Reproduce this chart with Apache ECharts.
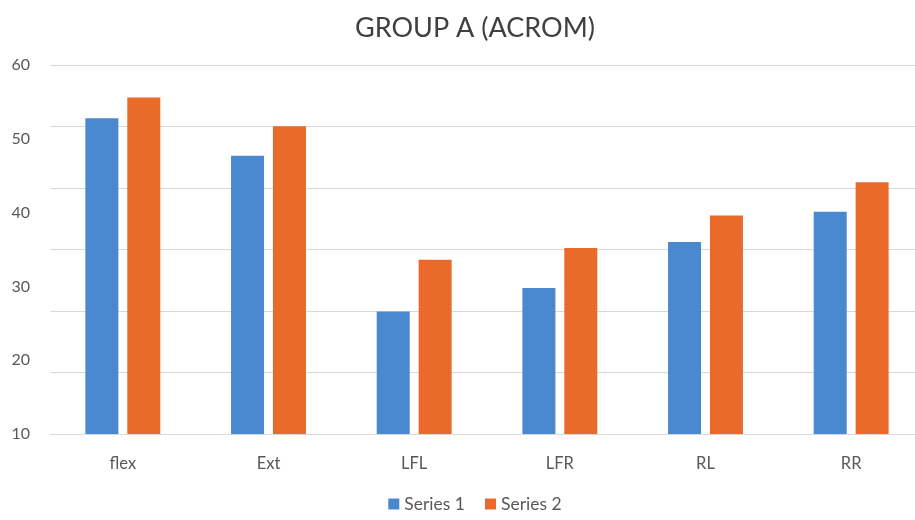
<!DOCTYPE html>
<html>
<head>
<meta charset="utf-8">
<script src="https://cdn.jsdelivr.net/npm/echarts@6/dist/echarts.min.js"></script>
<style>html,body{margin:0;padding:0;background:#fff;overflow:hidden}#c{width:950px;height:520px}</style>
</head>
<body>
<div id="c"></div>
<script>
var titleText = 'GROUP A (ACROM)';
var categories = ['flex', 'Ext', 'LFL', 'LFR', 'RL', 'RR'];
var series1 = [52.8, 47.7, 26.6, 29.8, 36.0, 40.1];
var series2 = [55.6, 51.7, 33.6, 35.2, 39.6, 44.1];
var seriesNames = ['Series 1', 'Series 2'];

var chart = echarts.init(document.getElementById('c'));
var font = 'Lato, "Open Sans", sans-serif';
chart.setOption({
  animation: false,
  title: {
    text: titleText, left: 'center', top: 10,
    textStyle: { fontFamily: font, fontSize: 27, fontWeight: 'normal', color: '#404040' }
  },
  legend: {
    data: seriesNames, bottom: 2, left: 'center',
    icon: 'rect', itemWidth: 11, itemHeight: 11, itemGap: 20,
    textStyle: { fontFamily: font, fontSize: 17.5, color: '#595959' }
  },
  grid: { left: 50, top: 65, right: 26, height: 369 },
  xAxis: {
    type: 'category', data: categories,
    axisLine: { lineStyle: { color: '#d9d9d9' } },
    axisTick: { show: false },
    axisLabel: { fontFamily: font, fontSize: 16.5, color: '#595959', margin: 21 }
  },
  yAxis: [
    {
      type: 'value', min: 10, max: 60, interval: 10,
      axisLine: { show: false }, axisTick: { show: false },
      splitLine: { show: false },
      axisLabel: { fontFamily: font, fontSize: 16, color: '#595959', margin: 20 }
    },
    {
      type: 'value', min: 0, max: 6, interval: 1, position: 'left',
      axisLine: { show: false }, axisTick: { show: false },
      axisLabel: { show: false },
      splitLine: { show: true, lineStyle: { color: '#d9d9d9', width: 1 } }
    }
  ],
  series: [
    { name: seriesNames[0], type: 'bar', data: series1, yAxisIndex: 0,
      barWidth: 33, barGap: '27%', itemStyle: { color: '#4a89cf' } },
    { name: seriesNames[1], type: 'bar', data: series2, yAxisIndex: 0,
      barWidth: 33, barGap: '27%', itemStyle: { color: '#e96a2b' } }
  ]
});
</script>
</body>
</html>
